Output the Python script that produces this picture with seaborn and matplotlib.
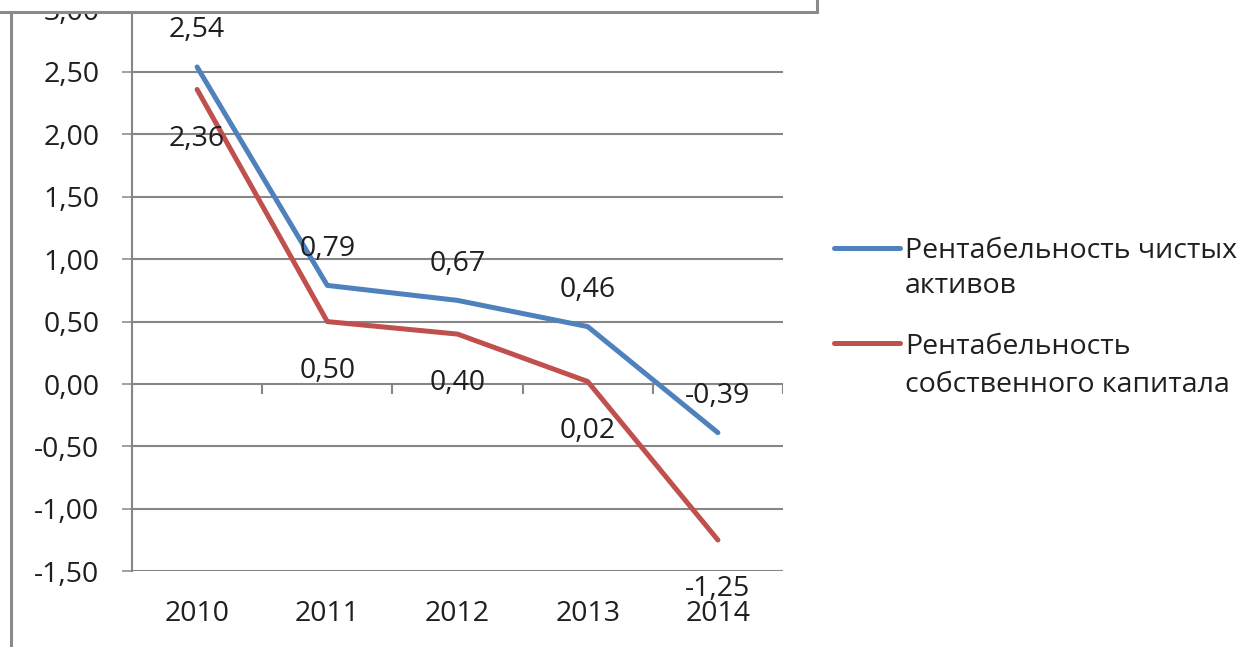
import matplotlib
matplotlib.use("Agg")
import matplotlib.pyplot as plt
import seaborn as sns
import pandas as pd
import numpy as np
from matplotlib.lines import Line2D
from matplotlib.patches import Rectangle
from matplotlib.ticker import FuncFormatter, MultipleLocator

# values
years = ["2010", "2011", "2012", "2013", "2014"]
net_assets = [2.54, 0.79, 0.67, 0.46, -0.39]
equity = [2.36, 0.50, 0.40, 0.02, -1.25]
series_names = ["Рентабельность чистых активов", "Рентабельность собственного капитала"]
legend_lines = [["Рентабельность чистых", "активов"], ["Рентабельность", "собственного капитала"]]
colors = ["#4F81BD", "#C0504D"]

df = pd.DataFrame({
    "x": list(range(len(years))) * 2,
    "value": net_assets + equity,
    "series": [series_names[0]] * len(years) + [series_names[1]] * len(years),
})

sns.set_style("white")
plt.rcParams["font.family"] = ["Open Sans", "DejaVu Sans"]
fs = 20.5
grid_col = "#868686"
text_col = "#1f1f1f"
W, H = 1260, 647


def fx(x):
    return x / W


def fy(y):
    return 1 - y / H


def fmt(v):
    return f"{v:.2f}".replace(".", ",")


fig = plt.figure(figsize=(W / 100, H / 100), dpi=100)
ax = fig.add_axes([fx(132), fy(571.2), (783 - 132) / W, (571.2 - 9.6) / H])

sns.lineplot(data=df, x="x", y="value", hue="series", hue_order=series_names,
             palette=colors, lw=3.6, ax=ax, legend=False,
             solid_capstyle="round", zorder=3)

ax.set_xlim(-0.5, len(years) - 0.5)
ax.set_ylim(-1.5, 3.0)
ax.yaxis.set_major_locator(MultipleLocator(0.5))
ax.yaxis.set_major_formatter(FuncFormatter(lambda v, p: fmt(v)))
ax.set_xticks(range(len(years)))
ax.set_xticklabels(years)
ax.set_xlabel("")
ax.set_ylabel("")
ax.yaxis.grid(True, color=grid_col, lw=1.5)
ax.xaxis.grid(False)
ax.set_axisbelow(True)

for s in ["top", "right", "bottom"]:
    ax.spines[s].set_visible(False)
ax.spines["left"].set_color(grid_col)
ax.spines["left"].set_linewidth(1.5)

ax.tick_params(axis="y", length=7, width=1.1, color=grid_col, pad=16.5,
               labelsize=fs, labelcolor=text_col, left=True)
ax.tick_params(axis="x", length=0, pad=20.5, labelsize=fs, labelcolor=text_col)

# category tick marks on the zero line
ax.vlines(np.arange(-0.5, len(years), 1), -0.08, 0, color=grid_col, lw=1.5, zorder=2)

# data labels
for i, v in enumerate(net_assets):
    ax.annotate(fmt(v), (i, v), xytext=(0, 26.5), textcoords="offset points",
                ha="center", va="center", fontsize=fs, color=text_col, zorder=5)
for i, v in enumerate(equity):
    ax.annotate(fmt(v), (i, v), xytext=(0, -35.5), textcoords="offset points",
                ha="center", va="center", fontsize=fs, color=text_col, zorder=5)

# legend
entry_y = [(248, [251, 286]), (343, [347, 385])]
for (ly, ty), col, lines in zip(entry_y, colors, legend_lines):
    fig.add_artist(Line2D([fx(834), fx(900)], [fy(ly), fy(ly)], color=col, lw=3.6,
                          solid_capstyle="round", transform=fig.transFigure))
    for t, yy in zip(lines, ty):
        fig.text(fx(905), fy(yy), t, fontsize=fs, color=text_col, ha="left", va="center")

# window frame edges in the screenshot
fig.add_artist(Rectangle((0, fy(12)), fx(817), 1 - fy(12), facecolor="white",
                         edgecolor="none", transform=fig.transFigure, zorder=10))
frame_kw = dict(color="#8a8a8a", lw=2.2, transform=fig.transFigure, zorder=11)
fig.add_artist(Line2D([0, fx(817)], [fy(12), fy(12)], **frame_kw))
fig.add_artist(Line2D([fx(817), fx(817)], [fy(12), 1], **frame_kw))
fig.add_artist(Line2D([fx(11), fx(11)], [fy(12), 0], **frame_kw))

fig.savefig("out.png", dpi=100, facecolor="white")
